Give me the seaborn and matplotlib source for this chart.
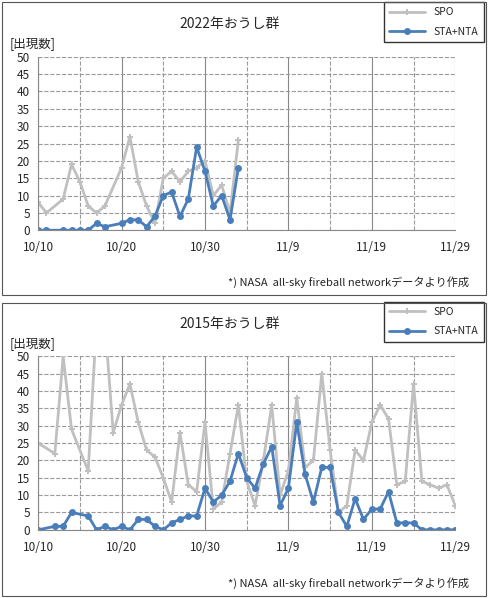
import matplotlib
matplotlib.use('Agg')
import matplotlib.pyplot as plt
import matplotlib.patches as mpatches
import pandas as pd
import seaborn as sns

sns.set_style('white')
plt.rcParams['font.family'] = ['Noto Sans CJK JP', 'DejaVu Sans']

# days since 10/10
top_days = [0, 1, 3, 4, 5, 6, 7, 8, 10, 11, 12, 13, 14, 15, 16, 17, 18, 19, 20, 21, 22, 23, 24]
top_spo = [8, 5, 9, 19, 14, 7, 5, 7, 18, 27, 14, 7, 2, 15, 17, 14, 17, 18, 20, 10, 13, 5, 26]
top_sta = [0, 0, 0, 0, 0, 0, 2, 1, 2, 3, 3, 1, 4, 10, 11, 4, 9, 24, 17, 7, 10, 3, 18]

bot_days = [0, 2, 3, 4, 6, 7, 8, 9, 10, 11, 12, 13, 14, 15, 16, 17, 18, 19, 20, 21, 22, 23, 24,
            25, 26, 27, 28, 29, 30, 31, 32, 33, 34, 35, 36, 37, 38, 39, 40, 41, 42, 43, 44, 45,
            46, 47, 48, 49, 50]
bot_spo = [25, 22, 50, 29, 17, 60, 60, 28, 36, 42, 31, 23, 21, 15, 8, 28, 13, 11, 31, 6, 8, 22, 36,
           14, 7, 20, 36, 10, 17, 38, 18, 20, 45, 23, 5, 7, 23, 20, 31, 36, 32, 13, 14, 42,
           14, 13, 12, 13, 7]
bot_sta = [0, 1, 1, 5, 4, 0, 1, 0, 1, 0, 3, 3, 1, 0, 2, 3, 4, 4, 12, 8, 10, 14, 22,
           15, 12, 19, 24, 7, 12, 31, 16, 8, 18, 18, 5, 1, 9, 3, 6, 6, 11, 2, 2, 2,
           0, 0, 0, 0, 0]

tick_days = [0, 10, 20, 30, 40, 50]
tick_labels = ['10/10', '10/20', '10/30', '11/9', '11/19', '11/29']
titles = ['2022年おうし群', '2015年おうし群']

fig = plt.figure(figsize=(4.89, 5.98), dpi=100)
fig.patches.append(mpatches.Rectangle((0.004, 0.507), 0.99, 0.49, transform=fig.transFigure,
                                      fill=False, edgecolor='#555555', lw=0.8))
fig.patches.append(mpatches.Rectangle((0.004, 0.004), 0.99, 0.49, transform=fig.transFigure,
                                      fill=False, edgecolor='#555555', lw=0.8))

panels = [(top_days, top_spo, top_sta, 0.615, 0.507), (bot_days, bot_spo, bot_sta, 0.114, 0.004)]
for i, (days, spo, sta, bottom, pb) in enumerate(panels):
    ax = fig.add_axes([0.078, bottom, 0.853, 0.29])
    df = pd.DataFrame({'day': days, 'SPO': spo, 'STA+NTA': sta})
    sns.lineplot(data=df, x='day', y='SPO', ax=ax, color='#c0c0c0', lw=2,
                 marker='P', markersize=5, markeredgewidth=0, label='SPO')
    sns.lineplot(data=df, x='day', y='STA+NTA', ax=ax, color='#4a7ebb', lw=2,
                 marker='o', markersize=5, markeredgewidth=0, label='STA+NTA')
    ax.set_xlim(0, 50)
    ax.set_ylim(0, 50)
    ax.set_yticks(range(0, 51, 5))
    ax.set_xticks(tick_days)
    ax.set_xticklabels(tick_labels)
    ax.set_xticks([5, 15, 25, 35, 45], minor=True)
    ax.tick_params(labelsize=8.5, length=0)
    ax.tick_params(axis='x', pad=8)
    ax.tick_params(axis='y', pad=6)
    ax.grid(axis='x', which='major', color='#888888', lw=0.8)
    ax.grid(axis='x', which='minor', color='#999999', lw=0.8, ls='--')
    ax.grid(axis='y', color='#999999', lw=0.8, ls='--')
    ax.set_xlabel('')
    ax.set_ylabel('')
    for s in ['top', 'right']:
        ax.spines[s].set_visible(False)
    for s in ['left', 'bottom']:
        ax.spines[s].set_color('#888888')
    ax.legend(loc='upper right', bbox_to_anchor=(1.068, 1.315), fontsize=7.5, frameon=True,
              fancybox=False, edgecolor='black', handlelength=3.5, borderpad=0.5,
              labelspacing=0.9, borderaxespad=0)
    fig.text(0.47, pb + 0.447, titles[i], fontsize=10, ha='center')
    fig.text(0.02, pb + 0.415, '[出現数]', fontsize=9)
    fig.text(0.96, pb + 0.015, '*) NASA  all-sky fireball networkデータより作成', fontsize=8, ha='right')

fig.savefig('out.png', dpi=100)
